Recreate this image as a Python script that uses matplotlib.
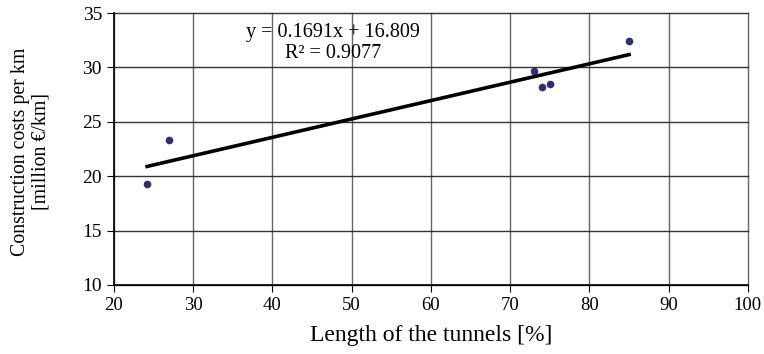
import numpy as np
import matplotlib
matplotlib.use("Agg")
import matplotlib.pyplot as plt

plt.rcParams['font.family'] = ['Liberation Serif', 'DejaVu Serif']

tunnel_share = [24.2, 27.0, 73.0, 74.0, 75.0, 85.0]
cost_per_km = [19.3, 23.3, 29.7, 28.2, 28.5, 32.4]
slope = 0.1691
intercept = 16.809
r_squared = 0.9077

x_ticks = [20, 30, 40, 50, 60, 70, 80, 90, 100]
y_ticks = [10, 15, 20, 25, 30, 35]

fig = plt.figure(figsize=(7.64, 3.54), dpi=100)
ax = fig.add_axes([0.149, 0.195, 0.83, 0.768])

ax.set_xlim(20, 100)
ax.set_ylim(10, 35)
ax.set_xticks(x_ticks)
ax.set_yticks(y_ticks)
ax.grid(True, axis='y', color='#333333', linewidth=1.0)
ax.grid(True, axis='x', color='#666666', linewidth=1.0)
ax.set_axisbelow(True)
# keep the outermost grid lines at full width
for gl in ax.get_xgridlines() + ax.get_ygridlines():
    gl.set_clip_on(False)

# linear trend across the data range
xs = np.array([min(tunnel_share), max(tunnel_share)])
ax.plot(xs, slope * xs + intercept, color='black', linewidth=2.6, zorder=3)
ax.plot(tunnel_share, cost_per_km, 'o', color='#2E3070', markersize=4.5, zorder=4)

ax.text(47.7, 32.25, f"y = {slope}x + {intercept}\nR² = {r_squared}",
        ha='center', va='center', fontsize=14.5, linespacing=1.1)

for side in ['top', 'right']:
    ax.spines[side].set_visible(False)
for side in ['left', 'bottom']:
    ax.spines[side].set_color('black')
    ax.spines[side].set_linewidth(1.2)

ax.tick_params(axis='both', direction='out', length=5, color='black')
ax.tick_params(axis='y', labelsize=14)
ax.tick_params(axis='x', labelsize=13.5)
ax.set_xlabel("Length of the tunnels [%]", fontsize=17, labelpad=8)
ax.set_ylabel("Construction costs per km\n[million €/km]", fontsize=14.3,
              linespacing=1.1)
ax.yaxis.set_label_coords(-0.1, 0.49)

fig.savefig("out.png", dpi=100)
